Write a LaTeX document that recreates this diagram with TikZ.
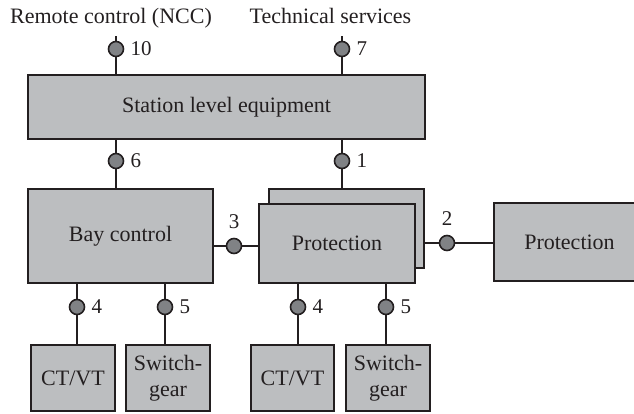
\documentclass[tikz,border=0pt]{standalone}
\usepackage{fontspec}
\setmainfont{Liberation Serif}
\begin{document}
\begin{tikzpicture}[x=1pt,y=-1pt,
  every node/.style={text=txt},
  box/.style={draw=ln,line width=2pt,fill=boxfill,rectangle,inner sep=0pt,font=\fontsize{22}{26}\selectfont},
  conn/.style={draw=ln,line width=2pt},
  pt/.style={circle,draw=ln,line width=1.6pt,fill=dotfill,minimum size=15pt,inner sep=0pt},
  num/.style={font=\fontsize{21}{24}\selectfont,inner sep=0pt},
  title/.style={font=\fontsize{22}{26}\selectfont,inner sep=0pt,anchor=base}
]
\definecolor{txt}{HTML}{231F20}
\definecolor{ln}{HTML}{231F20}
\definecolor{boxfill}{HTML}{BCBEC0}
\definecolor{dotfill}{HTML}{808285}
\useasboundingbox (0,0) rectangle (634,413);

% titles
\node[title] (rc) at (111,23) {Remote control (NCC)};
\node[title] (ts) at (330.5,23) {Technical services};

% boxes
\node[box,minimum width=397pt,minimum height=64pt] (station) at (226.5,107) {Station level equipment};
\node[box,minimum width=185pt,minimum height=94pt] (bay) at (120.5,236) {Bay control};
\node[box,minimum width=155pt,minimum height=79pt] (pback) at (346.5,228.5) {};
\node[box,minimum width=156pt,minimum height=79pt] (pfront) at (337,243.5) {Protection};
\node[box,minimum width=151pt,minimum height=78pt] (pright) at (569.5,242) {Protection};
\node[box,minimum width=84pt,minimum height=66pt] (ct1) at (73,378) {CT/VT};
\node[box,minimum width=84pt,minimum height=66pt,align=center] (sw1) at (168,378) {Switch-\\gear};
\node[box,minimum width=83pt,minimum height=66pt] (ct2) at (292.5,378) {CT/VT};
\node[box,minimum width=84pt,minimum height=66pt,align=center] (sw2) at (388,378) {Switch-\\gear};

% free ends
\coordinate (e10) at (116,36);
\coordinate (e7) at (342,36);
\coordinate (x6) at (116,0);
\coordinate (x1) at (342,0);
\coordinate (y3) at (0,246);
\coordinate (y2) at (0,243);
\coordinate (x4a) at (77,0);
\coordinate (x5a) at (165,0);
\coordinate (x4b) at (298,0);
\coordinate (x5b) at (386,0);

% connectors
\draw[conn] (e10) -- (e10 |- station.north);
\draw[conn] (e7) -- (e7 |- station.north);
\draw[conn] (station.south -| x6) -- (bay.north -| x6);
\draw[conn] (station.south -| x1) -- (pback.north -| x1);
\draw[conn] (bay.east |- y3) -- (pfront.west |- y3);
\draw[conn] (pback.east |- y2) -- (pright.west |- y2);
\draw[conn] (bay.south -| x4a) -- (ct1.north -| x4a);
\draw[conn] (bay.south -| x5a) -- (sw1.north -| x5a);
\draw[conn] (pfront.south -| x4b) -- (ct2.north -| x4b);
\draw[conn] (pfront.south -| x5b) -- (sw2.north -| x5b);

% dots with labels
\node[pt,label={[num,label distance=6pt]right:10}] (p10) at (116,49) {};
\node[pt,label={[num,label distance=6pt]right:7}] (p7) at (342,49) {};
\node[pt,label={[num,label distance=6pt]right:6}] (p6) at (116,161) {};
\node[pt,label={[num,label distance=6pt]right:1}] (p1) at (342,161) {};
\node[pt,label={[num,label distance=9pt]above:3}] (p3) at (234,246) {};
\node[pt,label={[num,label distance=9pt]above:2}] (p2) at (447,243) {};
\node[pt,label={[num,label distance=6pt]right:4}] (p4a) at (77,307) {};
\node[pt,label={[num,label distance=6pt]right:5}] (p5a) at (165,307) {};
\node[pt,label={[num,label distance=6pt]right:4}] (p4b) at (298,307) {};
\node[pt,label={[num,label distance=6pt]right:5}] (p5b) at (386,307) {};
\end{tikzpicture}
\end{document}
